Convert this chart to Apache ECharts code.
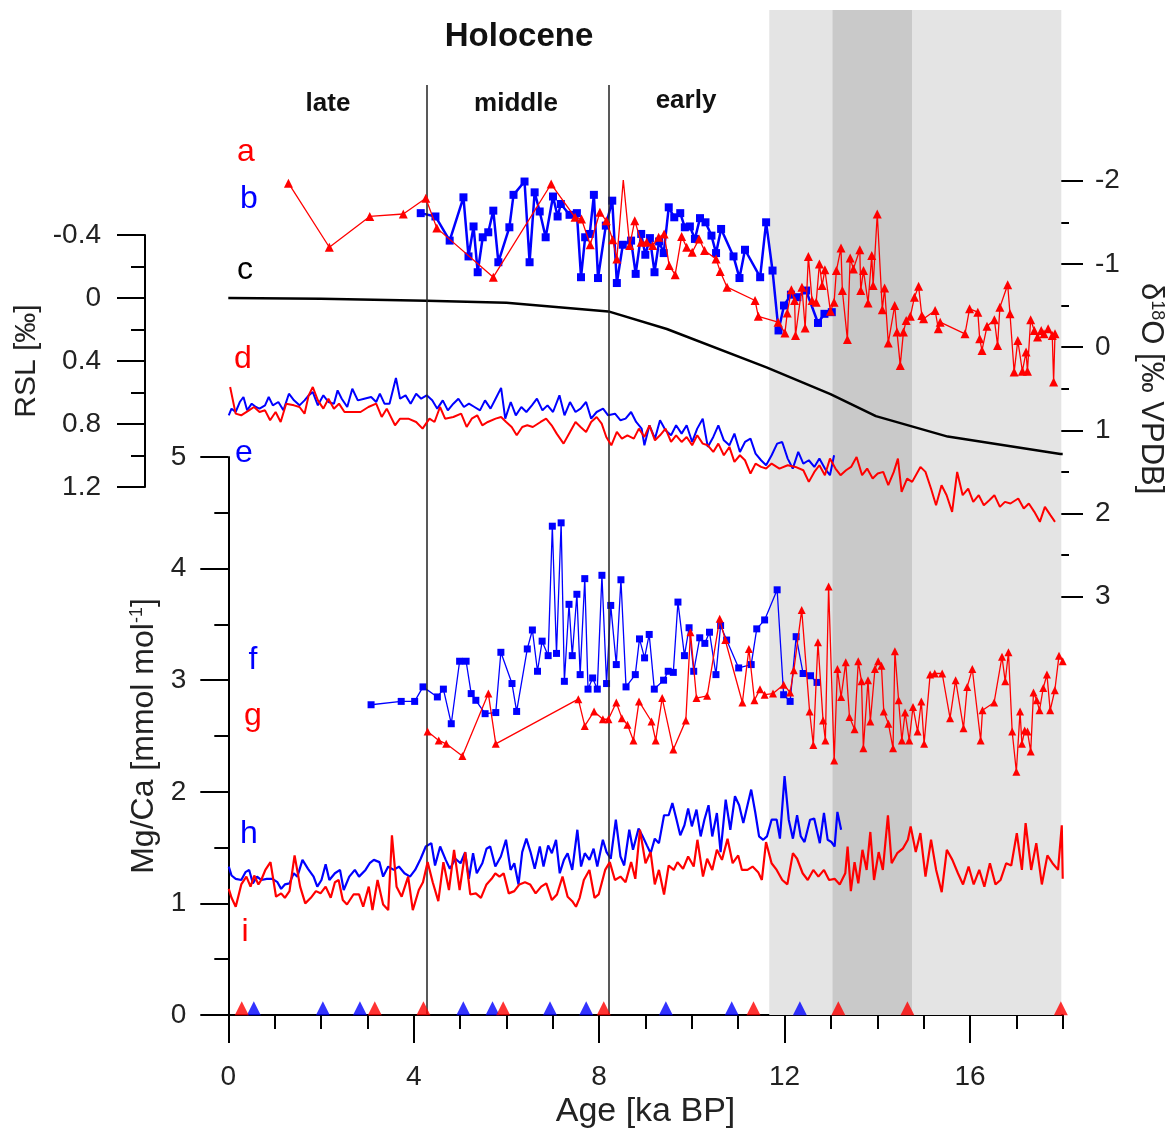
<!DOCTYPE html>
<html>
<head>
<meta charset="utf-8">
<script src="https://cdn.jsdelivr.net/npm/echarts@6/dist/echarts.min.js"></script>
<style>html,body{margin:0;padding:0;background:#fff}#c{width:1174px;height:1130px}</style>
</head>
<body>
<div id="c"></div>
<script>
// ---------- tick values ----------
const xMajorTicks = [0, 4, 8, 12, 16];
const xMinorTicks = [1, 2, 3, 5, 6, 7, 9, 10, 11, 13, 14, 15, 17, 18];

// ---------- periods (ka BP) ----------
const periodNames = ['YD', 'B/A', 'H1'];
const periodFrom = [11.67, 13.03, 14.76];
const periodTo = [13.03, 14.76, 17.97];
const holoceneBoundaries = [4.28, 8.2];

// ---------- a: δ18O (red triangles) ----------
const a_d18O = [[1.31,-1.97],[2.20,-1.20],[3.08,-1.57],[3.81,-1.60],[4.30,-1.79],[4.54,-1.43],[5.77,-0.84],[7.03,-1.96],[7.55,-1.56],[7.69,-1.54],[7.88,-1.23],[8.09,-1.62],[8.23,-1.52],[8.37,-1.29],[8.46,-1.06],[8.60,-2.01],[8.74,-1.22],[8.85,-1.52],[8.99,-1.26],[9.11,-1.26],[9.24,-1.22],[9.37,-1.32],[9.49,-1.36],[9.60,-0.98],[9.73,-0.87],[9.87,-1.33],[9.98,-1.20],[10.10,-1.14],[10.25,-1.30],[10.37,-1.16],[10.62,-1.06],[10.71,-0.91],[10.86,-0.72],[11.47,-0.56],[11.54,-0.37],[11.97,-0.30],[12.12,-0.17],[12.17,-0.41],[12.26,-0.69],[12.33,-0.56],[12.35,-0.14],[12.49,-0.72],[12.56,-0.23],[12.63,-1.09],[12.71,-0.56],[12.80,-0.54],[12.87,-1.00],[12.93,-0.74],[12.99,-0.93],[13.11,-0.43],[13.19,-0.54],[13.24,-0.92],[13.34,-1.19],[13.37,-0.68],[13.48,-0.09],[13.54,-1.07],[13.61,-0.94],[13.75,-1.17],[13.77,-0.68],[13.83,-0.92],[13.93,-0.53],[14.01,-1.10],[14.04,-0.74],[14.13,-1.60],[14.24,-0.45],[14.29,-0.71],[14.37,-0.05],[14.51,-0.50],[14.56,-0.18],[14.63,0.22],[14.70,-0.18],[14.76,-0.32],[14.85,-0.37],[14.94,-0.60],[15.03,-0.73],[15.10,-0.38],[15.14,-0.34],[15.39,-0.44],[15.46,-0.22],[15.50,-0.30],[16.04,-0.16],[16.14,-0.46],[16.32,-0.42],[16.36,-0.10],[16.41,0.04],[16.52,-0.25],[16.68,-0.33],[16.75,-0.02],[16.80,-0.48],[16.97,-0.75],[17.02,-0.40],[17.11,0.30],[17.19,-0.08],[17.29,0.29],[17.37,0.06],[17.40,0.29],[17.47,-0.33],[17.55,-0.20],[17.62,-0.12],[17.70,-0.20],[17.76,-0.16],[17.85,-0.22],[17.94,-0.14],[17.97,0.42],[18.0,-0.16]];

// ---------- b: δ18O (blue squares) ----------
const b_d18O = [[4.19,-1.61],[4.51,-1.57],[4.82,-1.28],[5.12,-1.80],[5.23,-1.09],[5.34,-1.45],[5.43,-0.90],[5.54,-1.32],[5.66,-1.38],[5.77,-1.64],[5.88,-1.02],[6.12,-1.44],[6.21,-1.83],[6.45,-1.99],[6.56,-1.02],[6.67,-1.86],[6.78,-1.63],[6.91,-1.32],[7.07,-1.81],[7.17,-1.57],[7.24,-1.72],[7.43,-1.59],[7.59,-1.61],[7.68,-0.84],[7.77,-1.32],[7.87,-1.36],[7.96,-1.83],[8.05,-0.83],[8.22,-1.46],[8.36,-1.76],[8.46,-0.77],[8.59,-1.23],[8.77,-1.28],[8.87,-0.88],[8.99,-1.36],[9.08,-1.11],[9.18,-1.31],[9.28,-0.90],[9.38,-1.27],[9.48,-1.13],[9.59,-1.68],[9.71,-1.56],[9.84,-1.61],[9.94,-1.44],[10.05,-1.45],[10.16,-1.30],[10.27,-1.55],[10.39,-1.50],[10.52,-1.34],[10.62,-1.13],[10.73,-1.42],[11.00,-1.09],[11.13,-0.83],[11.25,-1.17],[11.58,-0.84],[11.71,-1.50],[11.85,-0.92],[11.98,-0.20],[12.10,-0.50],[12.25,-0.63],[12.39,-0.60],[12.58,-0.68],[12.84,-0.29],[12.98,-0.40],[13.14,-0.42]];

// ---------- c: RSL (black line) ----------
const c_RSL = [[0,0],[2,0.005],[4.28,0.017],[6,0.03],[8.2,0.085],[9.46,0.197],[11.61,0.44],[12.99,0.61],[13.97,0.75],[15.52,0.88],[17.95,0.99],[18,0.99]];

// ---------- d: red line (δ18O scale) ----------
const d_d18O = [[0.04,0.48],[0.16,0.80],[0.28,0.82],[0.45,0.76],[0.56,0.72],[0.68,0.78],[0.80,0.76],[0.91,0.88],[1.03,0.78],[1.14,0.90],[1.26,0.68],[1.43,0.70],[1.55,0.72],[1.66,0.80],[1.75,0.58],[1.84,0.48],[1.95,0.64],[2.07,0.74],[2.18,0.62],[2.30,0.74],[2.41,0.68],[2.53,0.78],[2.70,0.78],[2.88,0.78],[3.05,0.72],[3.22,0.68],[3.34,0.84],[3.45,0.74],[3.63,0.94],[3.74,0.86],[3.92,0.86],[4.09,0.90],[4.23,0.98],[4.38,0.86],[4.49,0.90],[4.61,0.72],[4.72,0.86],[4.90,0.84],[5.07,0.80],[5.19,0.96],[5.30,0.86],[5.42,0.82],[5.53,0.94],[5.65,0.90],[5.82,0.86],[5.94,0.84],[6.05,0.90],[6.17,0.96],[6.28,1.06],[6.40,0.96],[6.51,0.94],[6.63,0.96],[6.80,0.90],[6.92,0.86],[7.04,0.94],[7.15,1.04],[7.30,1.16],[7.44,1.02],[7.56,0.90],[7.67,0.96],[7.79,1.02],[7.90,0.90],[8.02,0.84],[8.13,0.92],[8.23,1.08],[8.34,1.18],[8.46,1.02],[8.57,1.10],[8.69,1.06],[8.83,1.10],[8.94,0.98],[9.06,1.08],[9.17,0.94],[9.29,1.12],[9.40,1.06],[9.52,0.98],[9.64,1.14],[9.75,1.06],[9.87,1.14],[9.98,1.08],[10.10,1.18],[10.21,1.06],[10.33,1.16],[10.44,1.18],[10.56,1.26],[10.67,1.16],[10.79,1.30],[10.91,1.20],[11.02,1.38],[11.14,1.30],[11.25,1.36],[11.37,1.52],[11.48,1.40],[11.60,1.44],[11.71,1.46],[11.83,1.40],[12.00,1.46],[12.18,1.42],[12.35,1.44],[12.52,1.48],[12.64,1.62],[12.76,1.50],[12.87,1.42],[12.99,1.54],[13.10,1.34],[13.22,1.46],[13.33,1.54],[13.45,1.48],[13.56,1.44],[13.68,1.32],[13.80,1.54],[13.91,1.46],[14.03,1.58],[14.14,1.52],[14.26,1.50],[14.37,1.66],[14.49,1.50],[14.58,1.34],[14.66,1.74],[14.78,1.58],[14.89,1.62],[15.07,1.44],[15.18,1.50],[15.30,1.70],[15.41,1.90],[15.53,1.66],[15.64,1.78],[15.76,1.98],[15.87,1.50],[15.99,1.78],[16.11,1.70],[16.22,1.86],[16.34,1.78],[16.45,1.90],[16.57,1.84],[16.68,1.78],[16.80,1.92],[16.91,1.86],[17.03,1.88],[17.20,1.82],[17.32,1.94],[17.43,1.88],[17.55,1.98],[17.67,2.10],[17.78,1.92],[17.90,2.02],[18.0,2.10]];

// ---------- e: blue line (δ18O scale) ----------
const e_d18O = [[0.01,0.82],[0.07,0.74],[0.16,0.78],[0.25,0.66],[0.33,0.60],[0.41,0.76],[0.51,0.68],[0.60,0.72],[0.68,0.74],[0.80,0.70],[0.88,0.60],[0.97,0.70],[1.09,0.66],[1.20,0.76],[1.32,0.56],[1.43,0.64],[1.55,0.70],[1.66,0.64],[1.75,0.58],[1.84,0.54],[1.95,0.70],[2.07,0.58],[2.18,0.66],[2.30,0.68],[2.38,0.52],[2.47,0.62],[2.59,0.72],[2.70,0.50],[2.82,0.64],[2.96,0.62],[3.11,0.60],[3.22,0.66],[3.30,0.56],[3.40,0.68],[3.51,0.68],[3.65,0.37],[3.74,0.62],[3.86,0.58],[3.97,0.68],[4.09,0.56],[4.20,0.62],[4.32,0.58],[4.44,0.64],[4.55,0.74],[4.67,0.64],[4.78,0.76],[4.90,0.68],[5.01,0.62],[5.13,0.72],[5.24,0.68],[5.36,0.72],[5.48,0.76],[5.59,0.64],[5.71,0.74],[5.82,0.62],[5.94,0.49],[6.03,0.86],[6.15,0.66],[6.26,0.82],[6.38,0.72],[6.49,0.78],[6.61,0.70],[6.72,0.62],[6.84,0.76],[6.95,0.70],[7.07,0.78],[7.21,0.58],[7.32,0.82],[7.44,0.66],[7.56,0.78],[7.67,0.74],[7.79,0.66],[7.90,0.86],[8.02,0.78],[8.16,0.74],[8.27,0.82],[8.42,0.80],[8.54,0.88],[8.65,0.86],[8.77,0.78],[8.88,0.90],[9.00,0.98],[9.06,1.18],[9.17,0.94],[9.29,1.10],[9.40,0.88],[9.52,1.00],[9.64,1.06],[9.75,0.94],[9.87,1.04],[9.98,0.94],[10.10,1.14],[10.21,0.98],[10.33,0.86],[10.44,1.20],[10.56,1.08],[10.67,0.94],[10.79,1.12],[10.91,1.18],[11.02,1.04],[11.14,1.26],[11.25,1.14],[11.37,1.10],[11.48,1.28],[11.60,1.36],[11.71,1.42],[11.83,1.30],[11.95,1.16],[12.06,1.14],[12.18,1.34],[12.29,1.46],[12.41,1.26],[12.52,1.40],[12.64,1.36],[12.76,1.44],[12.87,1.34],[12.99,1.46],[13.10,1.54],[13.19,1.30]];

// ---------- f: Mg/Ca (blue squares) ----------
const f_MgCa = [[3.08,2.78],[3.73,2.81],[4.02,2.81],[4.20,2.94],[4.51,2.85],[4.64,2.92],[4.81,2.61],[4.99,3.17],[5.13,3.17],[5.24,2.88],[5.34,2.82],[5.54,2.70],[5.77,2.71],[5.88,3.25],[6.12,2.97],[6.22,2.72],[6.45,3.28],[6.56,3.45],[6.67,3.08],[6.77,3.35],[6.90,3.22],[6.99,4.38],[7.08,3.24],[7.18,4.41],[7.25,2.99],[7.35,3.68],[7.42,3.22],[7.52,3.77],[7.59,3.05],[7.69,3.91],[7.76,2.92],[7.86,3.02],[7.96,2.92],[8.06,3.94],[8.16,2.97],[8.25,3.67],[8.37,3.14],[8.47,3.90],[8.58,2.94],[8.78,3.05],[8.87,3.37],[8.98,3.20],[9.08,3.41],[9.19,2.92],[9.39,3.00],[9.49,3.08],[9.60,3.07],[9.70,3.70],[9.84,3.22],[9.94,3.47],[10.04,3.08],[10.17,3.38],[10.28,3.33],[10.38,3.43],[10.52,3.05],[10.62,3.49],[10.75,3.36],[11.01,3.11],[11.28,3.14],[11.40,3.46],[11.57,3.54],[11.84,3.81],[11.98,2.87],[12.12,2.81],[12.25,3.39],[12.40,3.06],[12.56,3.04],[12.70,2.98]];

// ---------- g: Mg/Ca (red triangles) ----------
const g_MgCa = [[4.30,2.54],[4.54,2.46],[4.70,2.43],[5.05,2.32],[5.61,2.88],[5.77,2.43],[7.55,2.83],[7.69,2.59],[7.89,2.72],[8.08,2.65],[8.20,2.65],[8.37,2.80],[8.49,2.66],[8.61,2.60],[8.74,2.46],[8.86,2.81],[9.13,2.63],[9.22,2.46],[9.36,2.84],[9.60,2.38],[9.87,2.64],[9.97,3.43],[10.10,2.84],[10.33,2.86],[10.60,3.55],[10.72,3.36],[11.09,2.80],[11.23,3.28],[11.35,2.82],[11.47,2.92],[11.57,2.87],[11.75,2.88],[11.98,2.96],[12.12,2.89],[12.20,3.09],[12.37,3.63],[12.54,2.72],[12.62,2.42],[12.72,3.34],[12.83,2.64],[12.88,2.46],[12.95,3.84],[13.07,2.28],[13.14,3.10],[13.22,2.85],[13.32,3.16],[13.40,2.67],[13.51,2.56],[13.59,3.17],[13.66,2.99],[13.70,2.39],[13.80,3.00],[13.85,2.63],[13.95,3.10],[14.02,3.17],[14.09,3.13],[14.14,2.72],[14.24,2.61],[14.34,2.39],[14.38,3.26],[14.46,2.82],[14.53,2.46],[14.60,2.71],[14.69,2.46],[14.77,2.76],[14.87,2.54],[14.95,2.81],[15.01,2.43],[15.14,3.05],[15.24,3.06],[15.40,3.06],[15.57,2.66],[15.69,3.00],[15.86,2.57],[15.94,2.94],[16.05,3.10],[16.23,2.46],[16.27,2.73],[16.52,2.80],[16.69,3.21],[16.76,2.99],[16.83,3.25],[16.91,2.54],[17.00,2.18],[17.08,2.72],[17.12,2.43],[17.18,2.55],[17.24,2.54],[17.31,2.36],[17.37,2.89],[17.44,2.82],[17.50,2.73],[17.58,2.93],[17.66,3.05],[17.73,2.73],[17.83,2.91],[17.92,3.22],[18.0,3.17]];

// ---------- h: Mg/Ca (blue line) ----------
const h_MgCa = [[0.01,1.33],[0.07,1.25],[0.16,1.22],[0.28,1.21],[0.37,1.28],[0.45,1.30],[0.53,1.18],[0.62,1.24],[0.71,1.21],[0.83,1.22],[0.95,1.22],[1.06,1.19],[1.14,1.13],[1.22,1.17],[1.32,1.18],[1.41,1.27],[1.49,1.24],[1.60,1.39],[1.72,1.31],[1.84,1.24],[1.92,1.15],[2.01,1.21],[2.10,1.35],[2.18,1.21],[2.30,1.27],[2.41,1.30],[2.49,1.12],[2.61,1.24],[2.73,1.30],[2.82,1.24],[2.96,1.30],[3.05,1.36],[3.14,1.39],[3.26,1.37],[3.34,1.24],[3.45,1.33],[3.57,1.30],[3.68,1.33],[3.80,1.27],[3.92,1.24],[4.03,1.30],[4.15,1.40],[4.26,1.51],[4.38,1.54],[4.46,1.34],[4.57,1.51],[4.69,1.39],[4.78,1.31],[4.90,1.40],[5.01,1.36],[5.11,1.46],[5.19,1.22],[5.28,1.45],[5.36,1.27],[5.48,1.36],[5.57,1.49],[5.65,1.51],[5.76,1.33],[5.88,1.42],[5.99,1.57],[6.09,1.30],[6.17,1.36],[6.26,1.17],[6.34,1.46],[6.43,1.58],[6.52,1.46],[6.61,1.31],[6.72,1.51],[6.80,1.33],[6.90,1.52],[6.98,1.45],[7.07,1.57],[7.15,1.27],[7.24,1.39],[7.32,1.45],[7.42,1.30],[7.53,1.66],[7.61,1.33],[7.69,1.45],[7.79,1.39],[7.88,1.49],[7.96,1.33],[8.08,1.57],[8.16,1.46],[8.25,1.40],[8.36,1.75],[8.46,1.42],[8.54,1.34],[8.65,1.66],[8.73,1.48],[8.85,1.67],[8.94,1.60],[9.03,1.52],[9.11,1.45],[9.20,1.58],[9.29,1.54],[9.40,1.79],[9.50,1.79],[9.58,1.90],[9.67,1.75],[9.75,1.61],[9.84,1.70],[9.92,1.85],[10.00,1.69],[10.10,1.84],[10.19,1.60],[10.27,1.75],[10.36,1.88],[10.44,1.60],[10.54,1.81],[10.62,1.46],[10.73,1.93],[10.83,1.66],[10.93,1.96],[11.02,1.88],[11.11,1.72],[11.20,1.88],[11.28,2.02],[11.37,1.81],[11.45,1.60],[11.54,1.57],[11.62,1.60],[11.72,1.75],[11.83,1.75],[11.90,1.58],[12.00,2.14],[12.09,1.75],[12.18,1.58],[12.27,1.79],[12.35,1.60],[12.43,1.55],[12.55,1.75],[12.64,1.76],[12.76,1.54],[12.85,1.81],[12.93,1.57],[13.01,1.55],[13.08,1.51],[13.14,1.82],[13.22,1.66]];

// ---------- i: Mg/Ca (red line) ----------
const i_MgCa = [[0.01,1.13],[0.07,1.05],[0.16,0.97],[0.28,1.17],[0.39,1.24],[0.48,1.15],[0.56,1.25],[0.65,1.17],[0.71,1.21],[0.80,1.30],[0.91,1.37],[1.03,1.06],[1.14,1.09],[1.22,1.05],[1.32,1.11],[1.43,1.43],[1.55,1.15],[1.66,1.00],[1.78,1.05],[1.89,1.11],[1.99,1.09],[2.10,1.15],[2.21,1.05],[2.30,1.19],[2.38,1.21],[2.47,1.03],[2.56,0.99],[2.70,1.08],[2.82,1.08],[2.91,0.97],[3.03,1.15],[3.11,0.94],[3.22,1.21],[3.34,0.99],[3.45,0.94],[3.53,1.61],[3.63,1.15],[3.74,1.06],[3.88,1.24],[3.98,0.94],[4.11,1.12],[4.20,1.19],[4.30,1.37],[4.41,1.19],[4.53,1.02],[4.64,1.37],[4.76,1.12],[4.87,1.48],[4.99,1.12],[5.11,1.46],[5.22,1.08],[5.34,1.09],[5.45,1.05],[5.57,1.17],[5.68,1.22],[5.76,1.27],[5.85,1.24],[5.94,1.27],[6.05,1.09],[6.17,1.11],[6.28,1.17],[6.40,1.19],[6.51,1.17],[6.63,1.09],[6.75,1.15],[6.86,1.18],[6.98,1.03],[7.09,1.08],[7.21,1.24],[7.32,1.06],[7.42,1.02],[7.50,0.97],[7.58,1.05],[7.67,1.21],[7.79,1.30],[7.90,1.05],[7.99,1.08],[8.13,1.30],[8.23,1.37],[8.34,1.21],[8.46,1.24],[8.57,1.19],[8.69,1.37],[8.78,1.22],[8.88,1.66],[9.00,1.36],[9.11,1.46],[9.20,1.17],[9.29,1.30],[9.40,1.08],[9.50,1.34],[9.61,1.30],[9.69,1.37],[9.81,1.31],[9.92,1.42],[10.04,1.33],[10.12,1.57],[10.24,1.24],[10.33,1.40],[10.44,1.30],[10.54,1.48],[10.65,1.39],[10.77,1.58],[10.88,1.36],[11.00,1.43],[11.08,1.30],[11.20,1.30],[11.31,1.33],[11.43,1.28],[11.51,1.21],[11.60,1.55],[11.72,1.36],[11.83,1.30],[11.95,1.21],[12.06,1.17],[12.18,1.45],[12.27,1.40],[12.39,1.27],[12.50,1.21],[12.62,1.30],[12.73,1.24],[12.85,1.30],[12.96,1.21],[13.08,1.22],[13.19,1.17],[13.31,1.27],[13.36,1.51],[13.43,1.11],[13.51,1.37],[13.59,1.18],[13.68,1.48],[13.77,1.30],[13.85,1.64],[13.93,1.21],[14.03,1.46],[14.12,1.30],[14.23,1.79],[14.31,1.36],[14.43,1.45],[14.55,1.49],[14.66,1.57],[14.72,1.69],[14.83,1.46],[14.93,1.63],[15.04,1.24],[15.16,1.57],[15.27,1.30],[15.39,1.10],[15.50,1.48],[15.62,1.39],[15.74,1.27],[15.85,1.17],[15.97,1.33],[16.08,1.17],[16.20,1.30],[16.31,1.15],[16.43,1.36],[16.55,1.17],[16.66,1.21],[16.78,1.36],[16.89,1.34],[17.01,1.63],[17.12,1.30],[17.20,1.72],[17.32,1.30],[17.43,1.54],[17.55,1.17],[17.67,1.43],[17.78,1.36],[17.90,1.30],[17.98,1.70],[18.0,1.22]];

// ---------- age control points (triangles on the age axis) ----------
const redAgeControl = [0.29, 3.16, 4.21, 5.93, 8.10, 11.33, 13.16, 14.65, 17.96];
const blueAgeControl = [0.55, 2.04, 2.84, 5.07, 5.70, 6.94, 7.72, 9.44, 10.86, 12.33];
const ageControlLevel = 0.06;

// ---------- styling ----------
const RED = '#ff0000', BLUE = '#0000ff', BLACK = '#000000';
const FONT = 'Liberation Sans, Arial, sans-serif';
const L = 228.3, R = 1174 - 1062.7;
const tickFont = 28;

const chart = echarts.init(document.getElementById('c'), null, {renderer: 'canvas'});

function hiddenX(gi) {
  return {type: 'value', gridIndex: gi, min: 0, max: 18, show: false};
}
function hiddenY(gi) {
  return {type: 'value', gridIndex: gi, min: 0, max: 1, show: false};
}
const axLine = {show: true, onZero: false, lineStyle: {color: BLACK, width: 2}};
const axTick = {show: true, inside: false, length: 28, lineStyle: {color: BLACK, width: 2}};
const minTick = {show: true, splitNumber: 2, length: 14, lineStyle: {color: BLACK, width: 2}};
const labStyle = {fontSize: tickFont, color: '#222', fontFamily: FONT};

const option = {
  animation: false,
  backgroundColor: '#fff',
  grid: [
    {left: L, right: R, top: 10, bottom: 115},      // 0 background bands
    {left: L, right: R, top: 85, bottom: 115},      // 1 Holocene boundaries
    {left: L, right: R, top: 457, bottom: 115},     // 2 Mg/Ca
    {left: L, right: R, top: 235, height: 252},     // 3 RSL
    {left: L, right: R, top: 180.7, height: 416}    // 4 δ18O
  ],
  xAxis: [
    hiddenX(0), hiddenX(1),
    {
      type: 'value', gridIndex: 2, min: 0, max: 18, interval: 4, position: 'bottom',
      axisLine: axLine,
      axisTick: Object.assign({}, axTick, {customValues: xMajorTicks}),
      axisLabel: Object.assign({}, labStyle, {customValues: xMajorTicks, margin: 48}),
      splitLine: {show: false},
      name: 'Age [ka BP]', nameLocation: 'middle', nameGap: 80,
      nameTextStyle: {fontSize: 34, color: '#222', fontFamily: FONT}
    },
    {
      type: 'value', gridIndex: 2, min: 0, max: 18, interval: 1, position: 'bottom',
      axisLine: {show: false, onZero: false},
      axisTick: {show: true, length: 14, customValues: xMinorTicks, lineStyle: {color: BLACK, width: 2}},
      axisLabel: {show: false}, splitLine: {show: false}
    },
    hiddenX(3), hiddenX(4)
  ],
  yAxis: [
    hiddenY(0), hiddenY(1),
    {
      type: 'value', gridIndex: 2, min: 0, max: 5, interval: 1, position: 'left',
      axisLine: axLine, axisTick: axTick, minorTick: minTick,
      axisLabel: Object.assign({}, labStyle, {margin: 42}),
      splitLine: {show: false}, minorSplitLine: {show: false},
      name: 'Mg/Ca [mmol mol{sup|-1}]', nameLocation: 'middle', nameRotate: 90, nameGap: 66,
      nameTextStyle: {fontSize: 32, color: '#222', fontFamily: FONT,
        rich: {sup: {fontSize: 18, verticalAlign: 'top', color: '#222', fontFamily: FONT, padding: [0, 0, 12, 0]}}}
    },
    {
      type: 'value', gridIndex: 3, min: -0.4, max: 1.2, interval: 0.4, inverse: true,
      position: 'left', offset: L - 145,
      axisLine: axLine, axisTick: axTick, minorTick: minTick,
      axisLabel: Object.assign({}, labStyle, {margin: 44}),
      splitLine: {show: false},
      name: 'RSL [‰]', nameLocation: 'middle', nameRotate: 90, nameGap: 100,
      nameTextStyle: {fontSize: 30, color: '#222', fontFamily: FONT}
    },
    {
      type: 'value', gridIndex: 4, min: -2, max: 3, interval: 1, inverse: true,
      position: 'right',
      axisLine: axLine, axisTick: axTick, minorTick: minTick,
      axisLabel: Object.assign({}, labStyle, {margin: 40}),
      splitLine: {show: false},
      name: 'δ{sup|18}O [‰ VPDB]', nameLocation: 'middle', nameRotate: -90, nameGap: 80,
      nameTextStyle: {fontSize: 31, color: '#222', fontFamily: FONT,
        rich: {sup: {fontSize: 18, verticalAlign: 'top', color: '#222', fontFamily: FONT, padding: [0, 0, 12, 0]}}}
    }
  ],
  series: [
    {
      type: 'line', xAxisIndex: 0, yAxisIndex: 0, data: [], silent: true, z: 0,
      markArea: {
        silent: true,
        data: periodNames.map((n, k) => [
          {xAxis: periodFrom[k], itemStyle: {color: n === 'B/A' ? '#c9c9c9' : '#e4e4e4'}},
          {xAxis: periodTo[k]}
        ])
      }
    },
    {
      type: 'line', xAxisIndex: 1, yAxisIndex: 1, data: [], silent: true, z: 1,
      markLine: {
        silent: true, symbol: ['none', 'none'], label: {show: false},
        lineStyle: {color: '#222', width: 1.5, type: 'solid'},
        data: holoceneBoundaries.map(v => ({xAxis: v}))
      }
    },
    // c RSL
    {type: 'line', xAxisIndex: 4, yAxisIndex: 3, data: c_RSL, showSymbol: false, z: 3,
      lineStyle: {color: BLACK, width: 2.5}},
    // b, a
    {type: 'line', xAxisIndex: 5, yAxisIndex: 4, data: b_d18O, symbol: 'rect', symbolSize: 8, z: 4,
      itemStyle: {color: BLUE}, lineStyle: {color: BLUE, width: 2.5}},
    {type: 'line', xAxisIndex: 5, yAxisIndex: 4, data: a_d18O, symbol: 'triangle', symbolSize: 9, z: 5,
      itemStyle: {color: RED}, lineStyle: {color: RED, width: 1.3}},
    // e, d
    {type: 'line', xAxisIndex: 5, yAxisIndex: 4, data: e_d18O, showSymbol: false, z: 4,
      lineStyle: {color: BLUE, width: 2}},
    {type: 'line', xAxisIndex: 5, yAxisIndex: 4, data: d_d18O, showSymbol: false, z: 5,
      lineStyle: {color: RED, width: 2}},
    // f, g
    {type: 'line', xAxisIndex: 2, yAxisIndex: 2, data: f_MgCa, symbol: 'rect', symbolSize: 7, z: 4,
      itemStyle: {color: BLUE}, lineStyle: {color: BLUE, width: 1.3}},
    {type: 'line', xAxisIndex: 2, yAxisIndex: 2, data: g_MgCa, symbol: 'triangle', symbolSize: 8, z: 5,
      itemStyle: {color: RED}, lineStyle: {color: RED, width: 1.3}},
    // h, i
    {type: 'line', xAxisIndex: 2, yAxisIndex: 2, data: h_MgCa, showSymbol: false, z: 4,
      lineStyle: {color: BLUE, width: 2.2}},
    {type: 'line', xAxisIndex: 2, yAxisIndex: 2, data: i_MgCa, showSymbol: false, z: 5,
      lineStyle: {color: RED, width: 2.2}},
    // age control points
    {type: 'scatter', xAxisIndex: 2, yAxisIndex: 2, symbol: 'triangle', symbolSize: [14, 14], z: 6,
      itemStyle: {color: BLUE}, data: blueAgeControl.map(v => [v, ageControlLevel])},
    {type: 'scatter', xAxisIndex: 2, yAxisIndex: 2, symbol: 'triangle', symbolSize: [14, 14], z: 7,
      itemStyle: {color: RED}, data: redAgeControl.map(v => [v, ageControlLevel])}
  ],
  graphic: [
    {type: 'text', x: 519, y: 37, style: {text: 'Holocene', fontSize: 33, fontWeight: 'bold', fontFamily: FONT, fill: '#111', align: 'center', verticalAlign: 'middle'}},
    {type: 'text', x: 328, y: 104, style: {text: 'late', fontSize: 26, fontWeight: 'bold', fontFamily: FONT, fill: '#111', align: 'center', verticalAlign: 'middle'}},
    {type: 'text', x: 516, y: 104, style: {text: 'middle', fontSize: 26, fontWeight: 'bold', fontFamily: FONT, fill: '#111', align: 'center', verticalAlign: 'middle'}},
    {type: 'text', x: 686, y: 101, style: {text: 'early', fontSize: 26, fontWeight: 'bold', fontFamily: FONT, fill: '#111', align: 'center', verticalAlign: 'middle'}},
    {type: 'text', x: 797, y: 32, style: {text: 'YD', fontSize: 26, fontWeight: 'bold', fontFamily: FONT, fill: '#111', align: 'center', verticalAlign: 'middle'}},
    {type: 'text', x: 871, y: 33, style: {text: 'B/A', fontSize: 26, fontWeight: 'bold', fontFamily: FONT, fill: '#111', align: 'center', verticalAlign: 'middle'}},
    {type: 'text', x: 983, y: 33, style: {text: 'H1', fontSize: 26, fontWeight: 'bold', fontFamily: FONT, fill: '#111', align: 'center', verticalAlign: 'middle'}},
    {type: 'text', x: 246, y: 152, style: {text: 'a', fontSize: 32, fontFamily: FONT, fill: RED, align: 'center', verticalAlign: 'middle'}},
    {type: 'text', x: 249, y: 199, style: {text: 'b', fontSize: 32, fontFamily: FONT, fill: BLUE, align: 'center', verticalAlign: 'middle'}},
    {type: 'text', x: 245, y: 270, style: {text: 'c', fontSize: 32, fontFamily: FONT, fill: BLACK, align: 'center', verticalAlign: 'middle'}},
    {type: 'text', x: 243, y: 359, style: {text: 'd', fontSize: 32, fontFamily: FONT, fill: RED, align: 'center', verticalAlign: 'middle'}},
    {type: 'text', x: 244, y: 453, style: {text: 'e', fontSize: 32, fontFamily: FONT, fill: BLUE, align: 'center', verticalAlign: 'middle'}},
    {type: 'text', x: 253, y: 660, style: {text: 'f', fontSize: 32, fontFamily: FONT, fill: BLUE, align: 'center', verticalAlign: 'middle'}},
    {type: 'text', x: 253, y: 716, style: {text: 'g', fontSize: 32, fontFamily: FONT, fill: RED, align: 'center', verticalAlign: 'middle'}},
    {type: 'text', x: 249, y: 834, style: {text: 'h', fontSize: 32, fontFamily: FONT, fill: BLUE, align: 'center', verticalAlign: 'middle'}},
    {type: 'text', x: 245, y: 932, style: {text: 'i', fontSize: 32, fontFamily: FONT, fill: RED, align: 'center', verticalAlign: 'middle'}}
  ]
};
chart.setOption(option);
</script>
</body>
</html>
